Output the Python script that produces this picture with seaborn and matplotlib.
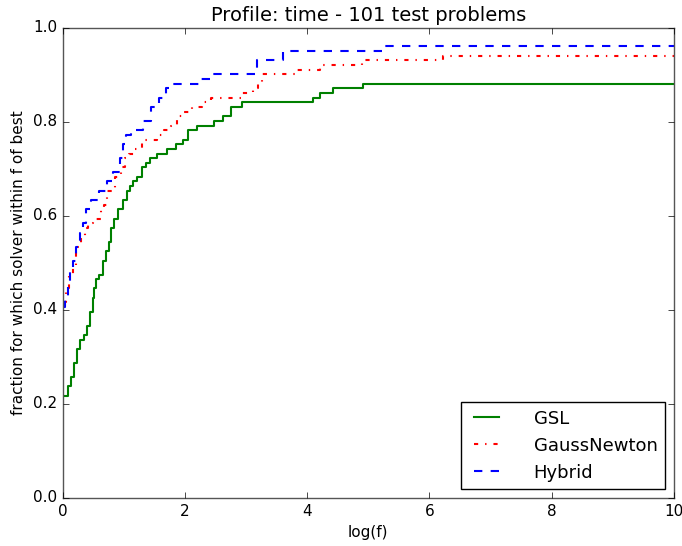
import pandas as pd
import matplotlib
matplotlib.use("Agg")
import matplotlib.pyplot as plt
import seaborn as sns

plt.style.use('classic')

n_problems = 101

# step positions (log(f)) and number of problems solved
gsl_x = [0.00, 0.08, 0.14, 0.19, 0.23, 0.28, 0.34, 0.39, 0.45, 0.49, 0.51, 0.55, 0.60,
         0.66, 0.70, 0.75, 0.79, 0.84, 0.90, 0.98, 1.05, 1.10, 1.15, 1.22, 1.30, 1.36,
         1.43, 1.55, 1.70, 1.86, 1.96, 2.05, 2.20, 2.48, 2.62, 2.76, 2.93, 4.09, 4.21,
         4.42, 4.91, 10.0]
gsl_n = [22, 24, 26, 29, 32, 34, 35, 37, 40, 43, 45, 47, 48, 51, 53, 55, 58, 60, 62, 64,
         66, 67, 68, 69, 71, 72, 73, 74, 75, 76, 77, 79, 80, 81, 82, 84, 85, 86, 87, 88,
         89, 89]

gn_x = [0.00, 0.06, 0.10, 0.16, 0.22, 0.30, 0.36, 0.42, 0.50, 0.62, 0.68, 0.73, 0.85,
        0.95, 1.02, 1.08, 1.18, 1.30, 1.55, 1.65, 1.77, 1.87, 1.99, 2.12, 2.28, 2.42,
        2.94, 3.12, 3.20, 3.26, 3.82, 4.21, 4.90, 6.22, 10.0]
gn_n = [42, 45, 48, 50, 54, 56, 58, 59, 60, 62, 63, 66, 69, 71, 73, 74, 75, 77, 78, 79,
        80, 82, 83, 84, 85, 86, 87, 88, 89, 91, 92, 93, 94, 95, 95]

hyb_x = [0.00, 0.04, 0.08, 0.12, 0.16, 0.22, 0.28, 0.33, 0.38, 0.47, 0.60, 0.72, 0.83,
         0.93, 0.98, 1.03, 1.12, 1.32, 1.45, 1.58, 1.69, 1.75, 2.24, 2.42, 3.18, 3.60,
         5.22, 10.0]
hyb_n = [41, 43, 46, 49, 51, 54, 57, 59, 62, 64, 66, 68, 70, 73, 76, 78, 79, 81, 84, 86,
         88, 89, 90, 91, 94, 96, 97, 97]

solvers = ["GSL", "GaussNewton", "Hybrid"]
colors = {"GSL": "g", "GaussNewton": "r", "Hybrid": "b"}
styles = {"GSL": "-", "GaussNewton": "-.", "Hybrid": "--"}

frames = []
for name, xs, ns in [("GSL", gsl_x, gsl_n), ("GaussNewton", gn_x, gn_n), ("Hybrid", hyb_x, hyb_n)]:
    frames.append(pd.DataFrame({"logf": xs, "frac": [v / n_problems for v in ns], "solver": name}))
df = pd.concat(frames, ignore_index=True)

fig = plt.figure(figsize=(6.82, 5.46), dpi=100, facecolor="white")
ax = fig.add_axes([0.092, 0.088, 0.896, 0.861])

for name in solvers:
    sub = df[df["solver"] == name]
    sns.lineplot(data=sub, x="logf", y="frac", ax=ax, color=colors[name], linestyle=styles[name],
                 drawstyle="steps-post", estimator=None, sort=False, linewidth=1.5, label=name)

ax.set_xlim(0, 10)
ax.set_ylim(0, 1.0)
ax.set_xticks([0, 2, 4, 6, 8, 10])
ax.set_yticks([0.0, 0.2, 0.4, 0.6, 0.8, 1.0])
ax.tick_params(labelsize=11)
for sp in ax.spines.values():
    sp.set_color("#555555")
ax.set_title("Profile: time - 101 test problems", fontsize=14)
ax.set_xlabel("log(f)", fontsize=11)
ax.set_ylabel("fraction for which solver within f of best", fontsize=11)
ax.legend(loc="lower right", fontsize=13, handlelength=2.0, handletextpad=1.6)

plt.savefig("out.png", dpi=100, facecolor="white")
